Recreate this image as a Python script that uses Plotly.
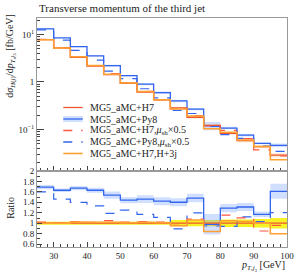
import plotly.graph_objects as go

# ---------------- data ----------------
bin_edges = [25, 30, 35, 40, 45, 50, 55, 60, 65, 70, 75, 80, 85, 90, 95, 100]

h7 = [7.78, 5.20, 3.31, 2.17, 1.43, 0.94, 0.615, 0.418, 0.284, 0.181, 0.1225, 0.083, 0.058, 0.0436, 0.0288]
py8 = [13.15, 8.48, 5.53, 3.54, 2.20, 1.354, 0.898, 0.594, 0.398, 0.268, 0.120, 0.107, 0.076, 0.051, 0.0464]
h7_mu05 = [7.94, 5.20, 3.41, 2.21, 1.50, 0.96, 0.633, 0.426, 0.273, 0.195, 0.119, 0.096, 0.064, 0.0371, 0.0276]
py8_mu05 = [12.45, 7.59, 4.63, 2.89, 1.70, 1.175, 0.720, 0.464, 0.253, 0.217, 0.116, 0.078, 0.065, 0.0449, 0.0346]
h7_3j = [7.78, 5.20, 3.38, 2.21, 1.46, 0.95, 0.627, 0.422, 0.270, 0.192, 0.103, 0.087, 0.060, 0.0436, 0.0230]

py8_unc = [0.025, 0.02, 0.025, 0.03, 0.045, 0.04, 0.05, 0.055, 0.055, 0.055, 0.2, 0.06, 0.06, 0.045, 0.09]
h7_unc = [0.03, 0.03, 0.03, 0.03, 0.03, 0.03, 0.03, 0.03, 0.06, 0.06, 0.06, 0.07, 0.07, 0.08, 0.1]

legend_labels = [
    "MG5_aMC+H7",
    "MG5_aMC+Py8",
    "MG5_aMC+H7,<i>μ</i><sub>sh</sub>×0.5",
    "MG5_aMC+Py8,<i>μ</i><sub>sh</sub>×0.5",
    "MG5_aMC+H7,H+3j",
]
x_ticks = [30, 40, 50, 60, 70, 80, 90, 100]
ratio_ticks = [0.6, 0.8, 1.0, 1.2, 1.4, 1.6, 1.8, 2.0]
ratio_ticktext = ["0.6", "0.8", "1", "1.2", "1.4", "1.6", "1.8", "2"]

# ---------------- style ----------------
C_H7 = "#EE5533"
C_PY8 = "#3366EE"
C_H7D = "#FF5544"
C_PY8D = "#3366EE"
C_3J = "#FFA033"
FONT = "Liberation Serif"
FRAME = "#999999"

def step(v):
    return list(v) + [v[-1]]

fig = go.Figure()

def add_band(lo, hi, color, xa, ya):
    fig.add_trace(go.Scatter(x=bin_edges, y=step(lo), mode="lines", line=dict(width=0, shape="hv"),
                             showlegend=False, hoverinfo="skip", xaxis=xa, yaxis=ya))
    fig.add_trace(go.Scatter(x=bin_edges, y=step(hi), mode="lines", line=dict(width=0, shape="hv"),
                             fill="tonexty", fillcolor=color, showlegend=False, hoverinfo="skip",
                             xaxis=xa, yaxis=ya))

def add_line(v, color, dash, xa, ya, width=1.3):
    fig.add_trace(go.Scatter(x=bin_edges, y=step(v), mode="lines",
                             line=dict(color=color, width=width, dash=dash, shape="hv"),
                             showlegend=False, xaxis=xa, yaxis=ya))

# main panel
add_band([v * (1 - u) for v, u in zip(h7, h7_unc)], [v * (1 + u) for v, u in zip(h7, h7_unc)],
         "rgba(255,190,110,0.35)", "x", "y")
add_band([v * (1 - u) for v, u in zip(py8, py8_unc)], [v * (1 + u) for v, u in zip(py8, py8_unc)],
         "rgba(120,160,255,0.35)", "x", "y")
add_line(py8_mu05, C_PY8D, "dash", "x", "y", 1.2)
add_line(h7_mu05, C_H7D, "dash", "x", "y", 1.2)
add_line(py8, C_PY8, "solid", "x", "y")
add_line(h7, C_H7, "solid", "x", "y")
add_line(h7_3j, C_3J, "solid", "x", "y", 1.5)

# ratio panel
r = lambda s: [a / b for a, b in zip(s, h7)]
ones = [1.0] * len(h7)
add_band([1 - u for u in h7_unc], [1 + u for u in h7_unc], "rgba(245,240,0,0.85)", "x2", "y2")
add_band([x * (1 - u) for x, u in zip(r(py8), py8_unc)], [x * (1 + u) for x, u in zip(r(py8), py8_unc)],
         "rgba(120,160,255,0.35)", "x2", "y2")
add_line(r(py8_mu05), C_PY8D, "dash", "x2", "y2", 1.2)
add_line(r(h7_mu05), C_H7D, "dash", "x2", "y2", 1.2)
add_line(r(py8), C_PY8, "solid", "x2", "y2")
add_line(ones, C_H7, "solid", "x2", "y2")
add_line(r(h7_3j), C_3J, "solid", "x2", "y2", 1.5)

minor_log = [k * 10 ** e for e in range(-2, 2) for k in range(2, 10)]
tickfont = dict(family=FONT, size=9, color="#222")
axis_common = dict(showline=True, linecolor=FRAME, linewidth=1, mirror=True, ticks="inside",
                   tickcolor="#444", showgrid=False, zeroline=False, tickfont=tickfont)

fig.update_layout(
    width=304, height=274,
    margin=dict(l=37, r=10, t=18, b=27),
    paper_bgcolor="white", plot_bgcolor="white",
    showlegend=False,
    xaxis=dict(anchor="y", range=[25, 100], tickvals=x_ticks, ticklen=5, showticklabels=False,
               minor=dict(ticks="inside", ticklen=3, dtick=2, tick0=0, tickcolor="#444"), **axis_common),
    yaxis=dict(anchor="x", domain=[0.332, 1], type="log", range=[-1.874, 1.347],
               tickvals=[0.1, 1, 10], ticktext=["10<sup>−1</sup>", "1", "10<sup>1</sup>"], ticklen=7,
               minor=dict(ticks="inside", ticklen=3, tickvals=minor_log, tickcolor="#444"), **axis_common),
    xaxis2=dict(anchor="y2", matches="x", range=[25, 100], tickvals=x_ticks, ticklen=5,
                minor=dict(ticks="inside", ticklen=3, dtick=2, tick0=0, tickcolor="#444"), **axis_common),
    yaxis2=dict(anchor="x2", domain=[0, 0.332], range=[0.545, 2.0], tickvals=ratio_ticks,
                ticktext=ratio_ticktext, ticklen=5,
                minor=dict(ticks="inside", ticklen=3, dtick=0.1, tick0=0, tickcolor="#444"), **axis_common),
)

def py(p):  # pixel y -> paper
    return (247 - p) / 229.0

def px(p):  # pixel x -> paper
    return (p - 37) / 257.0

ann = []
ann.append(dict(text="Transverse momentum of the third jet", x=px(37), y=py(8), xref="paper", yref="paper",
                xanchor="left", yanchor="middle", showarrow=False, font=dict(family=FONT, size=11, color="#222")))
ann.append(dict(text="d<i>σ</i><sub><i>H</i>(<i>j</i>)</sub>/d<i>p</i><sub><i>T</i>,<i>j</i><sub>3</sub></sub> [fb/GeV]",
                x=px(10), y=py(12), xref="paper", yref="paper", textangle=-90,
                xanchor="center", yanchor="top", showarrow=False, font=dict(family=FONT, size=10, color="#222")))
ann.append(dict(text="Ratio", x=px(10), y=py(208), xref="paper", yref="paper", textangle=-90,
                xanchor="center", yanchor="middle", showarrow=False, font=dict(family=FONT, size=10, color="#222")))
ann.append(dict(text="<i>p</i><sub><i>T</i>,<i>j</i><sub>3</sub></sub> [GeV]", x=px(294), y=py(257),
                xref="paper", yref="paper", xanchor="right", yanchor="top", showarrow=False,
                font=dict(family=FONT, size=10, color="#222")))

leg_rows = [107.5, 119, 130.5, 142, 153.5]
leg_styles = [(C_H7, "solid", 1.3), (C_PY8, "solid", 1.3), (C_H7D, "dash", 1.3), (C_PY8D, "dash", 1.3), (C_3J, "solid", 1.6)]
shapes = []
for i, (lab, yy, (col, dsh, w)) in enumerate(zip(legend_labels, leg_rows, leg_styles)):
    if i == 1:
        shapes.append(dict(type="rect", xref="paper", yref="paper", x0=px(64), x1=px(84),
                           y0=py(yy + 3), y1=py(yy - 3), fillcolor="rgba(120,160,255,0.35)", line=dict(width=0)))
    shapes.append(dict(type="line", xref="paper", yref="paper", x0=px(64), x1=px(84), y0=py(yy), y1=py(yy),
                       line=dict(color=col, width=w, dash=dsh)))
    ann.append(dict(text=lab, x=px(89), y=py(yy), xref="paper", yref="paper", xanchor="left", yanchor="middle",
                    showarrow=False, font=dict(family=FONT, size=10, color="#222")))

fig.update_layout(annotations=ann, shapes=shapes)
fig.write_html("out.html", config={"displayModeBar": False},
               post_script="document.body.style.margin='0';")
